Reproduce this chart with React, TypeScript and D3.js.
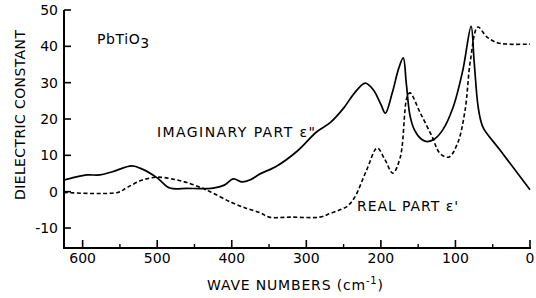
import React from 'react';
import * as d3 from 'd3';

// wave number (cm^-1) and dielectric constant
const imaginaryPart: [number, number][] = [
  [625, 3.2], [610, 4.0], [594, 4.6], [577, 4.6], [560, 5.5], [534, 7.1], [520, 6.2],
  [500, 3.8], [483, 1.0], [460, 0.9], [425, 1.0], [410, 1.8], [398, 3.5], [386, 2.7],
  [375, 3.3], [362, 4.9], [340, 7], [312, 11.2], [286, 16.5], [268, 19], [250, 23],
  [236, 27], [221, 29.9], [210, 28], [200, 24], [194, 21.6], [185, 27], [176, 34],
  [170, 36.8], [166, 30], [161, 21], [155, 17], [146, 14.5], [138, 13.8], [128, 14.5],
  [117, 17], [103, 23.3], [90, 33.5], [79, 45.5], [75, 36], [70, 24], [66, 19.5],
  [62, 17.3], [40, 11.4], [0, 0.5],
];

const realPart: [number, number][] = [
  [625, -0.2], [553, -0.2], [540, 1.2], [520, 3.2], [500, 4.0], [480, 3.5], [460, 2.5],
  [440, 1.0], [429, 0], [400, -3], [380, -4.6], [362, -5.8], [350, -7], [320, -7],
  [282, -7], [268, -6], [255, -5], [245, -4], [235, -1.5], [219, 6], [205, 12],
  [195, 9], [184, 5.1], [174, 9.5], [165, 26], [161, 27.2], [147, 21.6], [131, 15],
  [121, 10.6], [109, 9.5], [97, 13.4], [87, 22.5], [80, 36], [70, 45.3], [58, 42.6],
  [44, 41], [30, 40.6], [0, 40.6],
];

const xMajorTicks = [600, 500, 400, 300, 200, 100, 0];
const xMinorTicks = [550, 450, 350, 250, 150, 50];
const yTicks = [50, 40, 30, 20, 10, 0, -10];

const W = 536;
const H = 298;

export default function App() {
  const x = d3.scaleLinear().domain([625, 0]).range([64, 530]);
  const y = d3.scaleLinear().domain([-15.5, 50]).range([248, 10]);

  const line = d3.line<[number, number]>()
    .x(d => x(d[0]))
    .y(d => y(d[1]))
    .curve(d3.curveCatmullRom.alpha(0.5));

  const font = '"DejaVu Sans", Arial, sans-serif';
  const x0 = x.range()[0];
  const yBottom = y.range()[0];

  return (
    <div style={{ position: 'absolute', left: 0, top: 0 }}>
      <svg width={W} height={H} style={{ display: 'block', background: '#fff' }} fontFamily={font}>
        {/* axes */}
        <line x1={x0} x2={x0} y1={y(50)} y2={yBottom} stroke="#000" strokeWidth={2} />
        <line x1={x0 - 1} x2={x(0) + 1} y1={yBottom} y2={yBottom} stroke="#000" strokeWidth={2} />

        {yTicks.map(t => (
          <g key={t}>
            <line x1={x0} x2={x0 + 7} y1={y(t)} y2={y(t)} stroke="#000" strokeWidth={1.6} />
            <text x={x0 - 6} y={y(t)} dy="0.36em" textAnchor="end" fontSize={14}>
              {t}
            </text>
          </g>
        ))}

        {xMajorTicks.map(t => (
          <g key={t}>
            <line x1={x(t)} x2={x(t)} y1={yBottom} y2={yBottom - 8} stroke="#000" strokeWidth={1.6} />
            <text x={x(t)} y={yBottom + 15} textAnchor="middle" fontSize={14}>
              {t}
            </text>
          </g>
        ))}
        {xMinorTicks.map(t => (
          <line key={t} x1={x(t)} x2={x(t)} y1={yBottom} y2={yBottom - 4} stroke="#000" strokeWidth={1.4} />
        ))}

        {/* curves */}
        <path d={line(realPart) ?? ''} fill="none" stroke="#000" strokeWidth={1.6} strokeDasharray="4,2.5" />
        <path d={line(imaginaryPart) ?? ''} fill="none" stroke="#000" strokeWidth={1.7} />

        {/* labels */}
        <text
          transform="translate(25,115) rotate(-90)"
          textAnchor="middle"
          fontSize={14}
          textLength={170}
          lengthAdjust="spacing"
        >
          DIELECTRIC CONSTANT
        </text>
        <text x={207} y={290} fontSize={14} textLength={176} lengthAdjust="spacing">
          WAVE NUMBERS (cm<tspan dy={-6} fontSize={10}>-1</tspan><tspan dy={6}>)</tspan>
        </text>
        <text x={97} y={44} fontSize={14} letterSpacing={0.6}>
          PbTiO<tspan dy={4}>3</tspan>
        </text>
        <text x={157} y={137} fontSize={14} textLength={158} lengthAdjust="spacing">
          IMAGINARY PART ε"
        </text>
        <text x={357} y={211} fontSize={14} textLength={101} lengthAdjust="spacing">
          REAL PART ε'
        </text>
      </svg>
    </div>
  );
}
